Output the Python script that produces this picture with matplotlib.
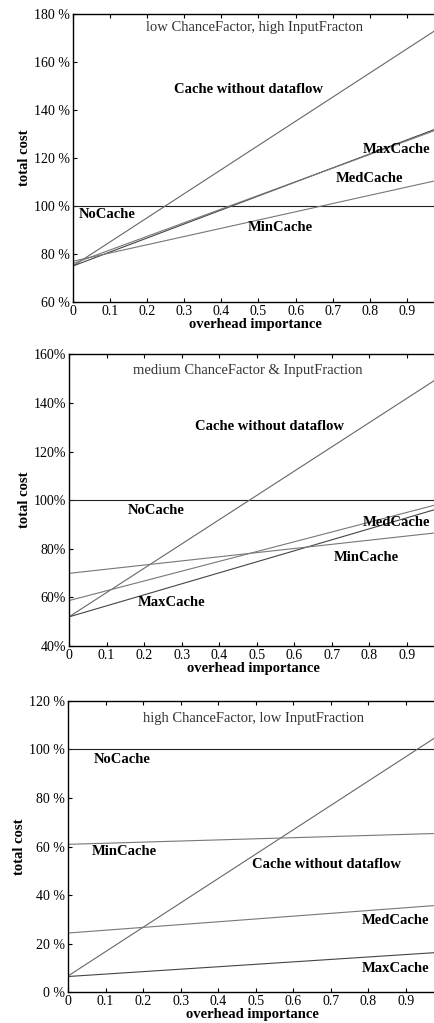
import numpy as np
import matplotlib
matplotlib.use("Agg")
from matplotlib import pyplot as plt

plt.rcParams['font.family'] = ['Liberation Serif', 'DejaVu Serif']

# x range of every panel (the right edge is cut a bit before 1.0)
x_end = 0.985
series = ["NoCache", "Cache without dataflow", "MaxCache", "MedCache", "MinCache"]

# start / end values (% total cost) per panel
top_start = [100, 75, 75, 76, 77]
top_end = [100, 174, 132.5, 132, 110.8]
mid_start = [100, 52, 52, 58.7, 69.9]
mid_end = [100, 150.4, 96.6, 98.4, 86.7]
bot_start = [100, 6.7, 6.5, 24.4, 60.9]
bot_end = [100, 105.5, 16.4, 35.8, 65.4]

titles = ["low ChanceFactor, high InputFracton",
          "medium ChanceFactor & InputFraction",
          "high ChanceFactor, low InputFraction"]
ylims = [(60, 180), (40, 160), (0, 120)]
ytick_fmt = ["%d %%", "%d%%", "%d %%"]

# label positions (x, y) in data coords, same order as series
top_lbl = [(0.092, 96.5), (0.472, 148.6), (0.872, 123.6), (0.80, 111.5), (0.56, 91)]
mid_lbl = [(0.231, 95.8), (0.535, 130.5), (0.272, 58), (0.872, 91), (0.793, 76.6)]
bot_lbl = [(0.145, 95.9), (0.688, 52.4), (0.872, 9.7), (0.872, 29.5), (0.15, 58)]
title_pos = [(0.49, 174.4), (0.477, 153.3), (0.494, 112.7)]

colors = ["#222222", "#666666", "#444444", "#777777", "#777777"]

fig = plt.figure(figsize=(4.35, 10.23), dpi=100)
rects = [[0.1678, 0.7048, 0.84, 0.2815],
         [0.1586, 0.3685, 0.85, 0.2851],
         [0.1563, 0.0300, 0.85, 0.2850]]

starts = [top_start, mid_start, bot_start]
ends = [top_end, mid_end, bot_end]
lbls = [top_lbl, mid_lbl, bot_lbl]

for i in range(3):
    ax = fig.add_axes(rects[i])
    for j, name in enumerate(series):
        ax.plot([0, x_end], [starts[i][j], ends[i][j]], color=colors[j], lw=0.8)
        ax.text(lbls[i][j][0], lbls[i][j][1], name, ha='center', va='center',
                fontsize=10.5, fontweight='bold')
    ax.text(title_pos[i][0], title_pos[i][1], titles[i], ha='center', va='center',
            fontsize=10.5, color='#333333')
    ax.set_xlim(0, x_end)
    ax.set_ylim(*ylims[i])
    ax.set_xticks(np.arange(0, 1.0, 0.1))
    ax.set_xticklabels(["0"] + ["0.%d" % k for k in range(1, 10)])
    yt = np.arange(ylims[i][0], ylims[i][1] + 1, 20)
    ax.set_yticks(yt)
    ax.set_yticklabels([ytick_fmt[i] % v for v in yt])
    ax.tick_params(direction='in', top=True, right=False, length=3, width=0.8,
                   labelsize=10, pad=2)
    ax.spines['right'].set_visible(False)
    for s in ['left', 'top', 'bottom']:
        ax.spines[s].set_linewidth(1.0)
    ax.set_xlabel("overhead importance", fontsize=10.5, fontweight='bold', labelpad=0)
    ax.set_ylabel("total cost", fontsize=10.5, fontweight='bold', labelpad=2)

fig.savefig("out.png", dpi=100)
